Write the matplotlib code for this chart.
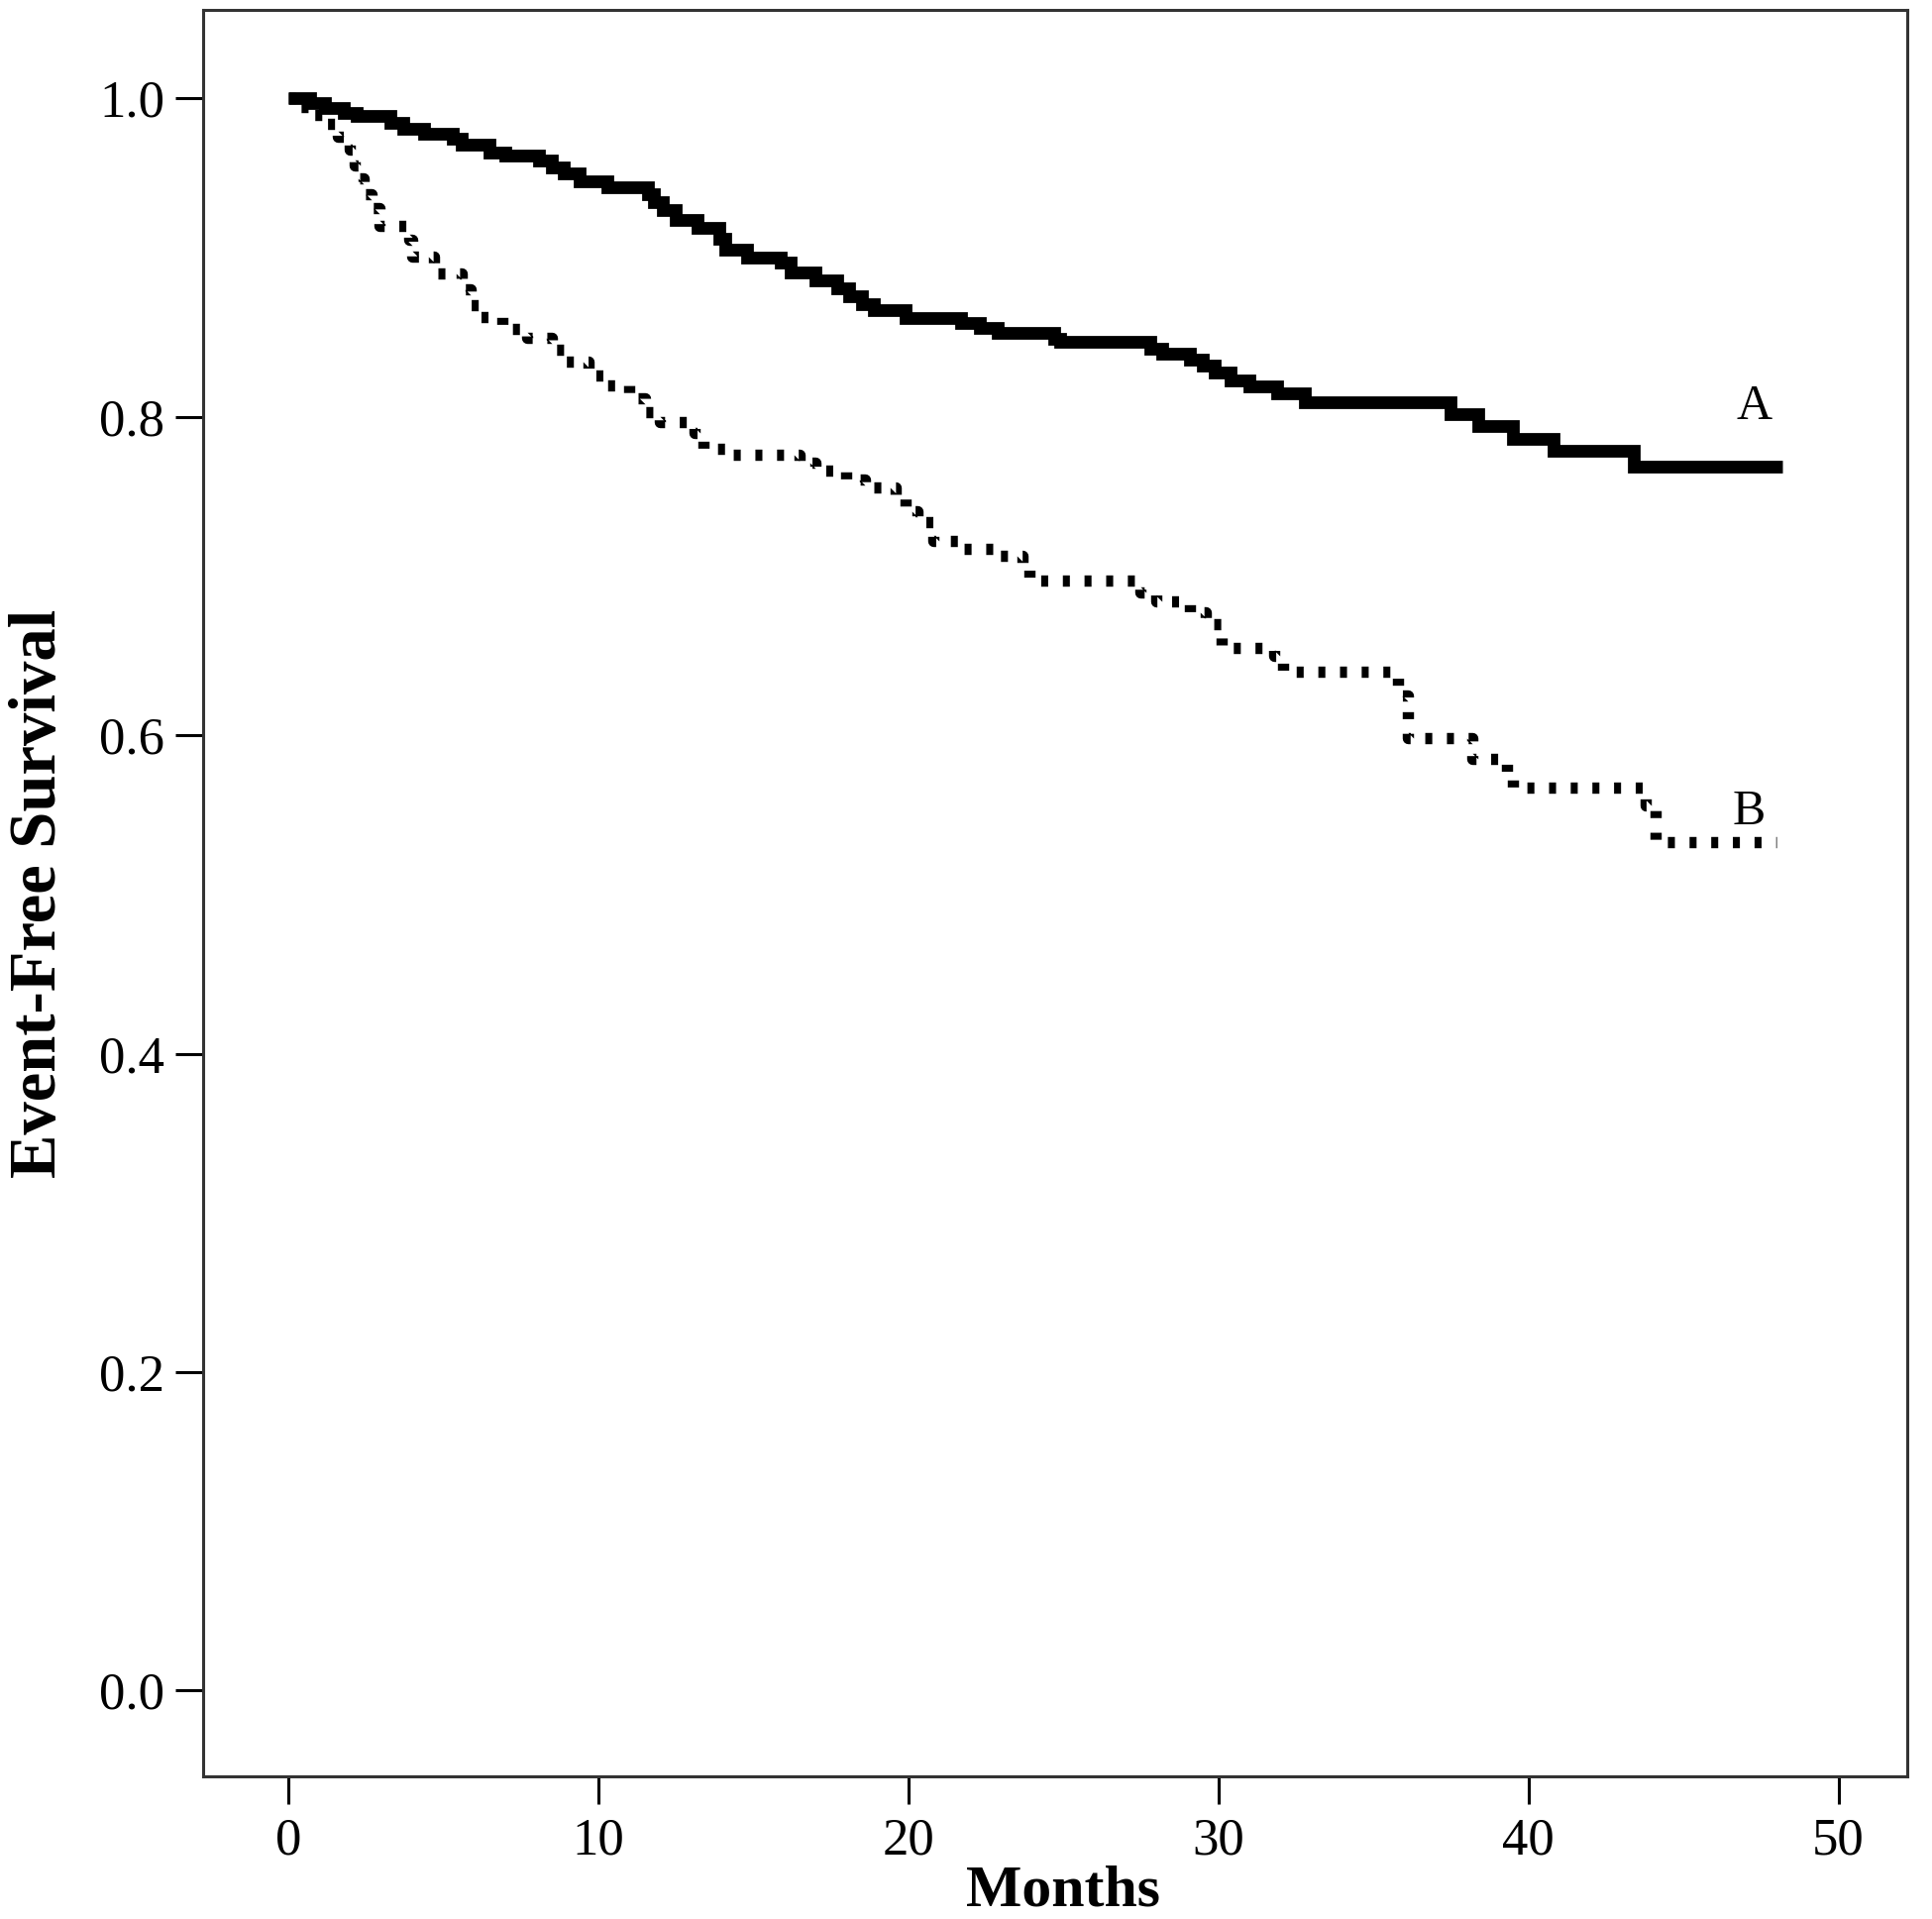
import matplotlib
matplotlib.use("Agg")
import matplotlib.pyplot as plt

# Kaplan-Meier style step curves (time in months, survival after each event)
months_a = [0, 0.7, 1.2, 1.8, 2.2, 3.3, 3.7, 4.4, 5.3, 5.6, 6.5, 7.0, 8.1, 8.5, 8.9,
            9.4, 10.3, 11.6, 11.8, 12.1, 12.5, 13.2, 13.9, 14.1, 14.8, 15.9, 16.2,
            17.0, 17.7, 18.1, 18.5, 18.9, 19.9, 21.7, 22.3, 22.9, 24.7, 24.9, 27.8,
            28.2, 29.1, 29.5, 29.9, 30.4, 31.0, 31.9, 32.8, 37.5, 38.4, 39.5, 40.8,
            43.4, 48.2]
surv_a = [1.0, 0.997, 0.994, 0.991, 0.989, 0.985, 0.981, 0.978, 0.975, 0.971, 0.966,
          0.964, 0.961, 0.957, 0.953, 0.948, 0.944, 0.940, 0.935, 0.930, 0.924, 0.919,
          0.912, 0.905, 0.900, 0.897, 0.891, 0.886, 0.881, 0.876, 0.871, 0.867, 0.862,
          0.859, 0.856, 0.853, 0.849, 0.847, 0.843, 0.840, 0.836, 0.832, 0.828, 0.823,
          0.819, 0.815, 0.809, 0.802, 0.794, 0.786, 0.779, 0.769, 0.769]

months_b = [0, 0.3, 0.8, 1.2, 1.6, 2.0, 2.15, 2.3, 2.45, 2.7, 2.95, 3.9, 4.0, 4.7, 5.6,
            5.9, 6.2, 6.9, 7.7, 8.5, 8.9, 9.7, 10.2, 11.0, 11.5, 12.0, 13.1, 13.4, 14.3,
            16.5, 17.0, 18.0, 18.6, 19.6, 19.9, 20.3, 20.8, 21.6, 22.8, 23.7, 23.9, 27.5,
            28.0, 29.1, 29.6, 30.1, 31.8, 32.1, 35.8, 36.1, 38.2, 39.3, 39.5, 43.8, 44.1,
            48.0]
surv_b = [1.0, 0.995, 0.990, 0.984, 0.976, 0.968, 0.958, 0.950, 0.940, 0.931, 0.920,
          0.911, 0.901, 0.890, 0.880, 0.870, 0.863, 0.855, 0.850, 0.842, 0.835, 0.826,
          0.820, 0.812, 0.803, 0.797, 0.790, 0.780, 0.776, 0.771, 0.766, 0.761, 0.756,
          0.750, 0.741, 0.734, 0.722, 0.717, 0.713, 0.705, 0.697, 0.690, 0.684, 0.677,
          0.670, 0.655, 0.650, 0.640, 0.625, 0.598, 0.585, 0.575, 0.567, 0.556, 0.533,
          0.533]

x_ticks = [0, 10, 20, 30, 40, 50]
y_ticks = [0.0, 0.2, 0.4, 0.6, 0.8, 1.0]
y_ticklabels = ["0.0", "0.2", "0.4", "0.6", "0.8", "1.0"]
group_labels = ["A", "B"]
label_pos = [(47.3, 0.806), (47.1, 0.552)]

serif = ["Liberation Serif", "DejaVu Serif"]
plt.rcParams["font.family"] = serif

fig = plt.figure(figsize=(19.5, 19.37), dpi=100)
ax = fig.add_axes([205 / 1950, 1 - 1793 / 1937, (1925 - 205) / 1950, (1793 - 10) / 1937])

ax.step(months_a, surv_a, where="post", color="black", linewidth=9.2,
        solid_joinstyle="miter", solid_capstyle="butt")
lb, = ax.step(months_b, surv_b, where="post", color="black", linewidth=8.2,
              dash_capstyle="butt")
lb.set_dashes((0.62, 1.3))

for lab, (xx, yy) in zip(group_labels, label_pos):
    ax.text(xx, yy, lab, fontsize=36, ha="center", va="center", color="black")

ax.set_xlim(-2.74, 52.22)
ax.set_ylim(-0.054, 1.0557)
ax.set_xticks(x_ticks)
ax.set_xticklabels([str(v) for v in x_ticks])
ax.set_yticks(y_ticks)
ax.set_yticklabels(y_ticklabels)

ax.tick_params(axis="both", direction="out", length=20, width=2.2, color="black",
               labelsize=38, pad=8)
ax.tick_params(axis="x", pad=10)
for s in ax.spines.values():
    s.set_linewidth(2.2)
    s.set_color("#333333")

ax.set_xlabel("Months", fontsize=43, fontweight="bold", labelpad=0)
ax.xaxis.label.set_x((25.0 + 2.74) / (52.22 + 2.74))
ax.set_ylabel("Event-Free Survival", fontsize=48, fontweight="bold", labelpad=22)

fig.savefig("out.png", dpi=100, facecolor="white")
